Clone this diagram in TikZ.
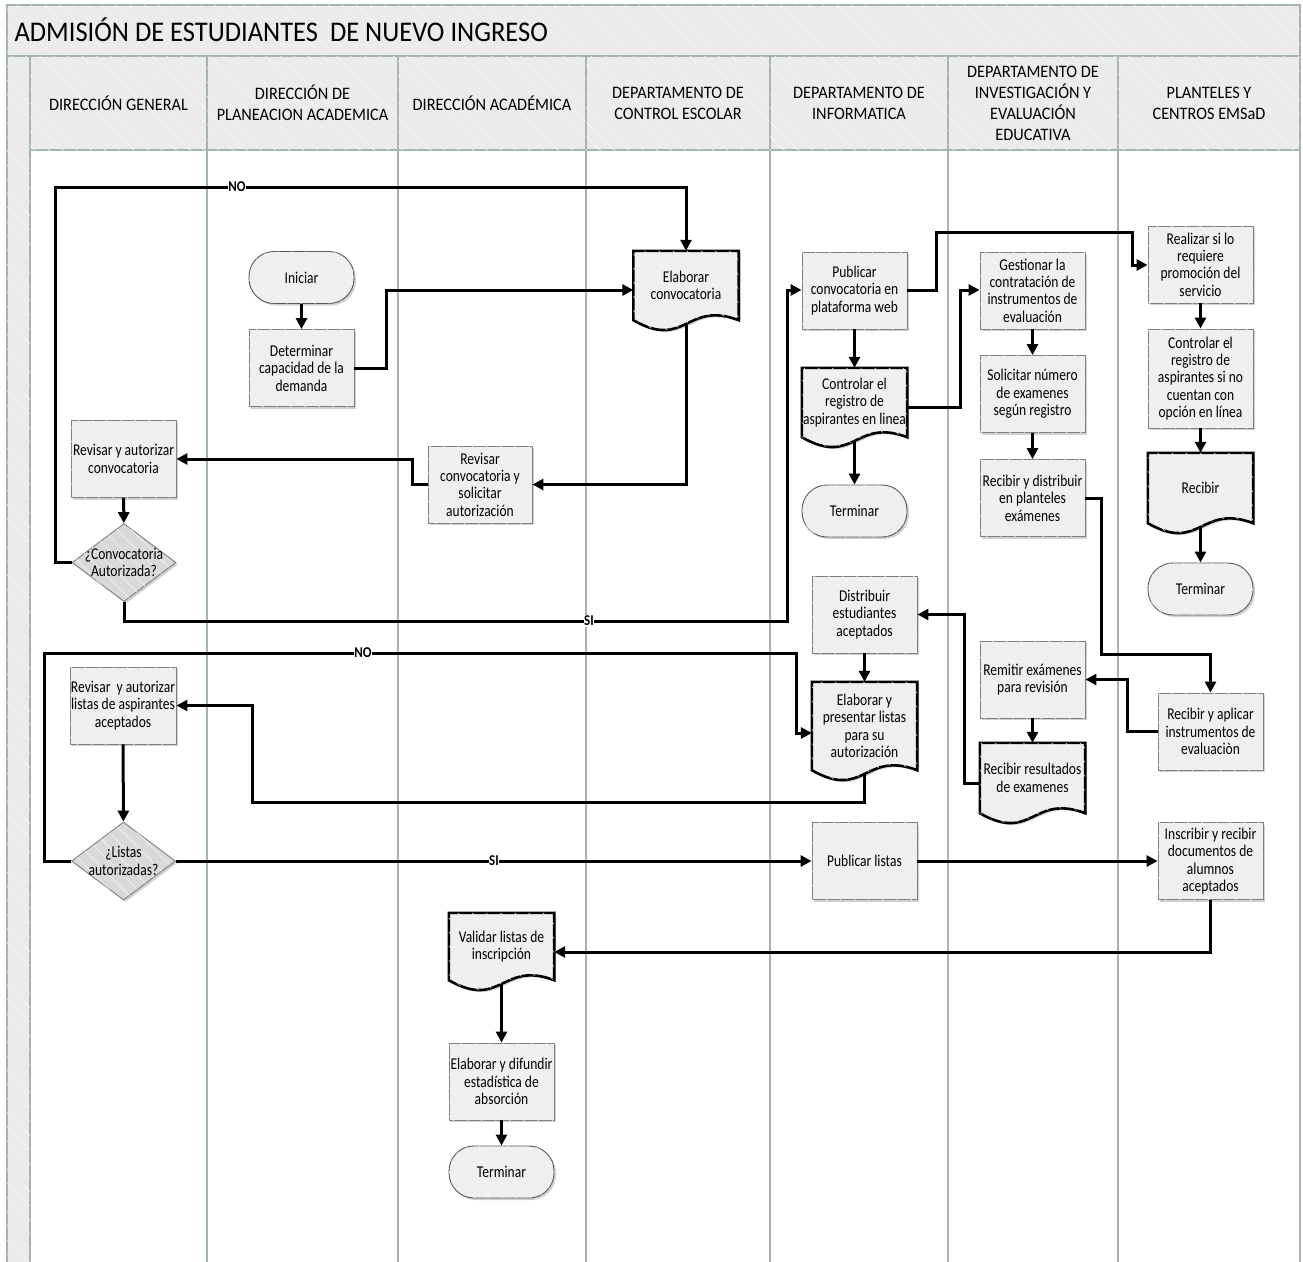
\documentclass[tikz,border=0pt]{standalone}
\usepackage{fontspec}
\setmainfont{Carlito}[FakeStretch=0.93]
\newfontfamily\boxfam{Carlito}[FakeStretch=0.82]
\newfontfamily\condfam{Carlito}[FakeStretch=0.86]
\usetikzlibrary{arrows.meta,shapes.geometric,shadows,patterns.meta}
\definecolor{lanecol}{RGB}{164,180,175}
\definecolor{hdrfill}{RGB}{235,235,235}
\definecolor{boxfill}{RGB}{239,239,239}
\definecolor{decfill}{RGB}{217,217,217}
\definecolor{boxline}{RGB}{128,128,128}
\definecolor{hatchcol}{RGB}{246,246,246}
\newcommand{\nodefont}{\boxfam\fontsize{16.5}{17.4}\selectfont}
\newcommand{\hdrfont}{\fontsize{17.5}{21}\selectfont}
\newcommand{\docnode}[5]{%
  \node[doctext, minimum height=#4pt] (#1) at (#2,#3) {};
  \path[docline] (#1.north west) -- (#1.north east) -- (#1.south east)
    .. controls ([xshift=-52.5pt,yshift=20pt]#1.south east) and ([xshift=52.5pt,yshift=-30pt]#1.south west) .. (#1.south west) -- cycle;
  \node[doctext] (#1t) at (#1) {#5};
}
\tikzset{
 hatch/.style={postaction={pattern={Lines[angle=-45,distance=10pt,line width=0.5pt]},pattern color=hatchcol}},
 shadebox/.style={drop shadow={shadow xshift=2pt,shadow yshift=-2pt,fill=black,opacity=0.18}},
 procbox/.style={rectangle, draw=boxline, line width=0.9pt, fill=boxfill, minimum width=105pt, minimum height=77pt, inner sep=1pt, align=center, font=\nodefont, shadebox, hatch},
 termbox/.style={rectangle, rounded corners=25pt, draw=black!65, line width=0.9pt, fill=boxfill, minimum width=105pt, minimum height=52pt, align=center, font=\nodefont, shadebox, hatch},
 decbox/.style={diamond, draw=boxline, line width=0.9pt, fill=decfill, minimum width=104pt, minimum height=78pt, inner sep=0pt, shadebox, hatch},
 doctext/.style={rectangle, minimum width=105pt, inner sep=1pt, align=center, font=\nodefont},
 docline/.style={draw=black, line width=2.6pt, fill=boxfill, shadebox, hatch},
 flow/.style={draw=black, line width=3pt, -{Triangle[length=11pt,width=11pt]}},
 cond/.style={font=\condfam\bfseries\fontsize{15}{15}\selectfont, fill=white, inner sep=0.6pt},
 lane/.style={draw=lanecol, line width=1.2pt},
 hdr/.style={align=center, font=\hdrfont},
}
\begin{document}
\begin{tikzpicture}[x=1pt,y=-1pt]
\useasboundingbox (0,0) rectangle (1303,1261);
% ---------- pool frame ----------
\draw[lane, fill=hdrfill, hatch] (7,5) rectangle (1300,56);
\node[anchor=west, font=\fontsize{28.5}{31}\selectfont] (title) at (11,30) {ADMISIÓN DE ESTUDIANTES\ \ DE NUEVO INGRESO};
\draw[lane, fill=hdrfill, hatch] (7,56) rectangle (30,1275);
\foreach \xa/\xb in {30/207,207/398,398/586,586/770,770/948,948/1118,1118/1300}{
  \draw[lane, fill=hdrfill, hatch] (\xa,56) rectangle (\xb,150);
  \draw[lane] (\xb,150) -- (\xb,1275);
}
\node[hdr] (h1) at (118.5,103) {DIRECCIÓN GENERAL};
\node[hdr] (h2) at (302.5,103) {DIRECCIÓN DE\\PLANEACION ACADEMICA};
\node[hdr] (h3) at (492,103) {DIRECCIÓN ACADÉMICA};
\node[hdr] (h4) at (678,103) {DEPARTAMENTO DE\\CONTROL ESCOLAR};
\node[hdr] (h5) at (859,103) {DEPARTAMENTO DE\\INFORMATICA};
\node[hdr] (h6) at (1033,103) {DEPARTAMENTO DE\\INVESTIGACIÓN Y\\EVALUACIÓN\\EDUCATIVA};
\node[hdr] (h7) at (1209,103) {PLANTELES Y\\CENTROS EMSaD};
% ---------- nodes ----------
\node[termbox] (ini) at (301.5,277.5) {Iniciar};
\node[procbox] (det) at (301.5,368) {Determinar\\capacidad de la\\demanda};
\docnode{elab}{686}{285.5}{69}{Elaborar\\convocatoria}
\node[procbox, minimum width=104pt] (revc) at (480,484.5) {Revisar\\convocatoria y\\solicitar\\autorización};
\node[procbox] (reva) at (123.5,459) {Revisar y autorizar\\convocatoria};
\node[decbox] (dec1) at (124,562.5) {};
\node[doctext] (dec1t) at (dec1) {¿Convocatoria\\Autorizada?};
\node[procbox] (pub) at (854.5,290.5) {Publicar\\convocatoria en\\plataforma web};
\docnode{ctrl}{854.5}{402.5}{69}{Controlar el\\registro de\\aspirantes en linea}
\node[termbox] (term1) at (854.5,511) {Terminar};
\node[procbox] (gest) at (1032.5,290.5) {Gestionar la\\contratación de\\instrumentos de\\evaluación};
\node[procbox] (sol) at (1032.5,394) {Solicitar número\\de examenes\\según registro};
\node[procbox] (recd) at (1032.5,498) {Recibir y distribuir\\en planteles\\exámenes};
\node[procbox] (real) at (1200.5,264.5) {Realizar si lo\\requiere\\promoción del\\servicio};
\node[procbox, minimum height=99pt] (ctrl2) at (1200.5,378.5) {Controlar el\\registro de\\aspirantes si no\\cuentan con\\opción en línea};
\docnode{rec}{1200.5}{488}{70}{Recibir}
\node[termbox] (term2) at (1200.5,589) {Terminar};
\node[procbox] (dist) at (864.5,614.5) {Distribuir\\estudiantes\\aceptados};
\docnode{elp}{864.5}{726}{88}{Elaborar y\\presentar listas\\para su\\autorización}
\node[procbox] (rem) at (1032.5,679.5) {Remitir exámenes\\para revisión};
\docnode{rres}{1032.5}{778}{70}{Recibir resultados\\de examenes}
\node[procbox] (rap) at (1210.5,731.5) {Recibir y aplicar\\instrumentos de\\evaluaciòn};
\node[procbox] (revl) at (123,705.5) {Revisar\ \ y autorizar\\listas de aspirantes\\aceptados};
\node[decbox] (dec2) at (123.5,861) {};
\node[doctext] (dec2t) at (dec2) {¿Listas\\autorizadas?};
\node[procbox] (publ) at (864.5,861) {Publicar listas};
\node[procbox] (ins) at (1210.5,861) {Inscribir y recibir\\documentos de\\alumnos\\aceptados};
\docnode{val}{501.5}{946.5}{67}{Validar listas de\\inscripción}
\node[procbox] (edif) at (501.5,1081.5) {Elaborar y difundir\\estadística de\\absorción};
\node[termbox] (term3) at (501.5,1172) {Terminar};
% ---------- connectors ----------
\draw[flow] (ini) -- (det);
\draw[flow] (det.east) -- (386,368) -- (386,290) -- (elab.west |- 0,290);
\draw[flow] (dec1.west) -- (55,562.5) -- (55,187) -- (686,187) -- (elab.north);
\draw[flow] ([yshift=-4pt]elab.south) -- (686,484.5) -- (revc.east);
\draw[flow] (revc.west) -- (412,484.5) -- (412,459) -- (reva.east);
\draw[flow] (reva) -- (dec1);
\draw[flow] (dec1.south) -- (124,621) -- (787,621) -- (787,290) -- (pub.west |- 0,290);
\draw[flow] (pub.east |- 0,290) -- (936,290) -- (936,232) -- (1132,232) -- (1132,265) -- (real.west |- 0,265);
\draw[flow] (pub) -- (ctrl.north);
\draw[flow] (ctrl.east |- 0,407) -- (960,407) -- (960,290) -- (gest.west |- 0,290);
\draw[flow] ([yshift=-4pt]ctrl.south) -- (term1);
\draw[flow] (gest) -- (sol);
\draw[flow] (sol) -- (recd);
\draw[flow] (real) -- (ctrl2);
\draw[flow] (ctrl2) -- (rec.north);
\draw[flow] ([yshift=-4pt]rec.south) -- (term2);
\draw[flow] (recd.east) -- (1101,498) -- (1101,654) -- (1210.5,654) -- (rap.north);
\draw[flow] (rap.west) -- (1127,731.5) -- (1127,679.5) -- (rem.east);
\draw[flow] (rem) -- (rres.north);
\draw[flow] (rres.west |- 0,783) -- (964,783) -- (964,614.5) -- (dist.east);
\draw[flow] (dist) -- (elp.north);
\draw[flow] (dec2.west) -- (44,861) -- (44,653) -- (796,653) -- (796,733) -- (elp.west |- 0,733);
\draw[flow] ([yshift=-4pt]elp.south) -- (864.5,802) -- (252,802) -- (252,705.5) -- (revl.east);
\draw[flow] (revl) -- (dec2);
\draw[flow] (dec2) -- (publ);
\draw[flow] (publ) -- (ins);
\draw[flow] (ins.south) -- (1210.5,952) -- (val.east |- 0,952);
\draw[flow] ([yshift=-4pt]val.south) -- (edif);
\draw[flow] (edif) -- (term3);
% ---------- labels ----------
\node[cond] (no1) at (237,187) {NO};
\node[cond] (si1) at (589,621) {SI};
\node[cond] (no2) at (363,653) {NO};
\node[cond] (si2) at (494,861) {SI};
\end{tikzpicture}
\end{document}
